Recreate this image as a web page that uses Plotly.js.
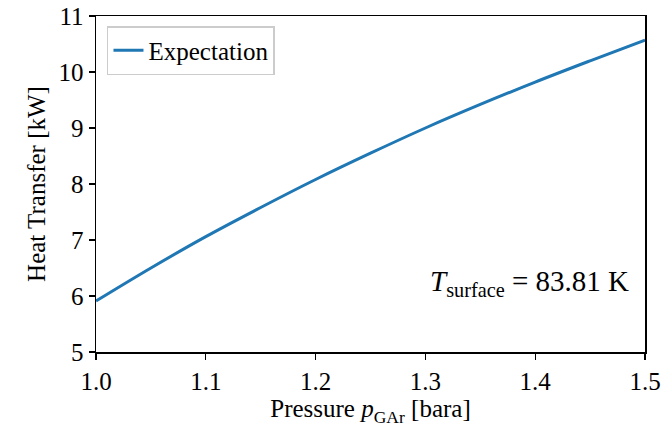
<!DOCTYPE html>
<html><head><meta charset="utf-8">
<script src="https://cdn.plot.ly/plotly-3.0.1.min.js"></script>
<style>body{margin:0;}#c{width:662px;height:437px;}</style>
</head><body><div id="c"></div>
<script>
const pressure = [1.0, 1.05, 1.1, 1.15, 1.2, 1.25, 1.3, 1.35, 1.4, 1.45, 1.5];
const heatTransfer = [5.91, 6.50, 7.06, 7.58, 8.08, 8.55, 9.00, 9.42, 9.82, 10.20, 10.57];
const xTicks = [1.0, 1.1, 1.2, 1.3, 1.4, 1.5];
const xTickLabels = ['1.0', '1.1', '1.2', '1.3', '1.4', '1.5'];
const yTicks = [5, 6, 7, 8, 9, 10, 11];

const font = '"Liberation Serif", "Times New Roman", Times, serif';
const axisCommon = {
  showline: true, mirror: true, linecolor: '#000', linewidth: 1.5,
  ticks: 'outside', ticklen: 6, tickwidth: 1.3, tickcolor: '#000',
  showgrid: false, zeroline: false,
  tickfont: {family: font, size: 25, color: '#000'}
};
Plotly.newPlot('c', [{
  x: pressure, y: heatTransfer, type: 'scatter', mode: 'lines',
  name: 'Expectation', line: {color: '#1f77b4', width: 3, shape: 'spline'}
}], {
  width: 662, height: 437,
  margin: {l: 96, r: 17, t: 16, b: 85},
  paper_bgcolor: '#fff', plot_bgcolor: '#fff',
  font: {family: font, color: '#000'},
  xaxis: Object.assign({}, axisCommon, {
    range: [1.0, 1.5], tickvals: xTicks, ticktext: xTickLabels,
    title: {text: 'Pressure <i>p</i><sub>GAr</sub> [bara]', font: {family: font, size: 25}, standoff: 6}
  }),
  yaxis: Object.assign({}, axisCommon, {
    range: [5, 11], tickvals: yTicks,
    title: {text: 'Heat Transfer [kW]', font: {family: font, size: 25}, standoff: 6}
  }),
  showlegend: true,
  legend: {
    x: 0.02, y: 0.97, xanchor: 'left', yanchor: 'top',
    bgcolor: '#fff', bordercolor: '#ccc', borderwidth: 1.5,
    font: {family: font, size: 25, color: '#000'}
  },
  annotations: [{
    xref: 'paper', yref: 'paper', x: 0.975, y: 0.205, xanchor: 'right', yanchor: 'middle',
    text: '<i>T</i><sub>surface</sub> = 83.81 K', showarrow: false,
    font: {family: font, size: 29, color: '#000'}
  }]
}, {staticPlot: true});
</script></body></html>
